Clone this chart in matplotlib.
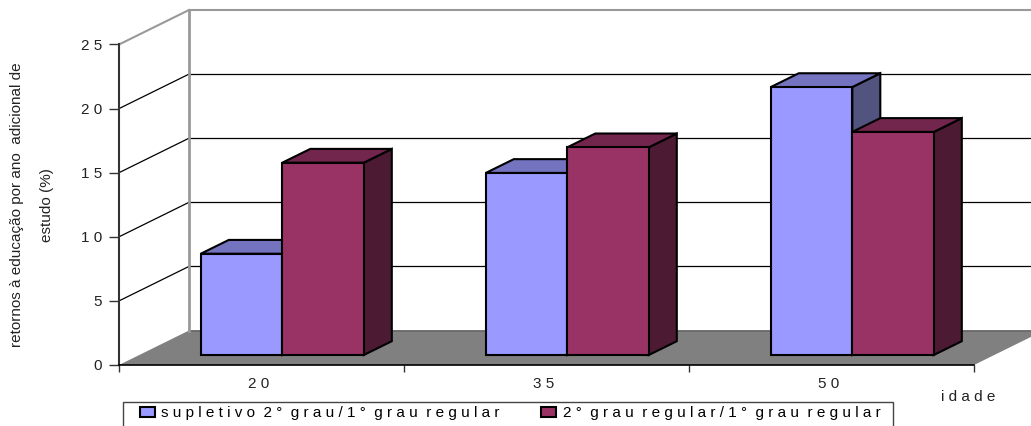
import matplotlib
matplotlib.use("Agg")
import matplotlib.pyplot as plt
from matplotlib.patches import Polygon, Rectangle

plt.rcParams["font.family"] = ["Liberation Sans", "DejaVu Sans"]

# dados
idades = ["2 0", "3 5", "5 0"]
supletivo = [7.9, 14.2, 20.9]
regular = [15.0, 16.2, 17.4]
serie_nomes = ["s u p l e t i v o  2 °  g r a u / 1 °  g r a u  r e g u l a r",
               "2 °  g r a u  r e g u l a r / 1 °  g r a u  r e g u l a r"]
y_ticks = [0, 5, 10, 15, 20, 25]
y_labels = ["0", "5", "1 0", "1 5", "2 0", "2 5"]

W, H = 1031, 426

# deslocamento da profundidade, em unidades dos eixos
DX = 70 / 285
DY = 34.5 / 12.82
BAR_W = 81.5 / 285
GAP = 61.5 / 285
D0, D1 = 0.29, 0.69


def proj(x, v, d=0.0):
    return (x + d * DX, v + d * DY)


def draw_bar(ax, x, v, cores, z):
    w = BAR_W
    edge = dict(edgecolor="black", linewidth=1.5, clip_on=False, joinstyle="miter", zorder=z)
    lado = [proj(x + w, 0, D0), proj(x + w, 0, D1), proj(x + w, v, D1), proj(x + w, v, D0)]
    topo = [proj(x, v, D0), proj(x + w, v, D0), proj(x + w, v, D1), proj(x, v, D1)]
    frente = [proj(x, 0, D0), proj(x + w, 0, D0), proj(x + w, v, D0), proj(x, v, D0)]
    ax.add_patch(Polygon(lado, facecolor=cores[2], **edge))
    ax.add_patch(Polygon(topo, facecolor=cores[1], **edge))
    return ax.add_patch(Polygon(frente, facecolor=cores[0], **edge))


fig = plt.figure(figsize=(W / 100, H / 100), dpi=100)
ax = fig.add_axes([119 / W, (H - 365) / H, 855 / W, 320.5 / H])
ax.set_xlim(0, 3)
ax.set_ylim(0, 25)
ax.patch.set_visible(False)

# chao
chao = [proj(0, 0), proj(3, 0), proj(3, 0, 1), proj(0, 0, 1)]
ax.add_patch(Polygon(chao, facecolor="#808080", edgecolor="none", clip_on=False, zorder=1))
ax.plot(*zip(proj(0, 0, 1), proj(3, 0, 1)), color="#666666", lw=1.2, clip_on=False, zorder=1.5)

# paredes e grades
for v in y_ticks:
    if v == 0:
        continue
    cor = "#999999" if v == 25 else "black"
    lw = 1.5 if v == 25 else 0.9
    ax.plot(*zip(proj(0, v), proj(0, v, 1)), color=cor, lw=lw, clip_on=False, zorder=2)
    ax.plot(*zip(proj(0, v, 1), proj(3, v, 1)), color=cor, lw=lw, clip_on=False, zorder=2)
ax.plot(*zip(proj(0, 0, 1), proj(0, 25, 1)), color="#999999", lw=2, clip_on=False, zorder=2)

# barras
azul = ("#9999FF", "#7373BF", "#53537F")
vinho = ("#993366", "#73264D", "#4D1A33")
for i in range(len(idades)):
    x0 = i + GAP
    h1 = draw_bar(ax, x0, supletivo[i], azul, 3 + i)
    h2 = draw_bar(ax, x0 + BAR_W, regular[i], vinho, 3.5 + i)
handles = [h1, h2]

# eixos
ax.spines["top"].set_visible(False)
ax.spines["right"].set_visible(False)
ax.spines["left"].set_color("#333333")
ax.spines["left"].set_linewidth(1.5)
ax.spines["bottom"].set_color("black")
ax.spines["bottom"].set_linewidth(1.2)
for s in ax.spines.values():
    s.set_zorder(2.5)

ax.set_yticks(y_ticks)
ax.set_yticklabels(y_labels, fontsize=11, color="#222222")
ax.tick_params(axis="y", length=7, width=1, color="#333333", pad=5)
ax.set_xticks([0, 1, 2, 3])
ax.set_xticklabels([])
ax.tick_params(axis="x", length=5, width=1, color="#333333")
ax.set_xticks([0.49, 1.49, 2.49], minor=True)
ax.set_xticklabels(idades, minor=True, fontsize=11, color="#222222")
ax.tick_params(axis="x", which="minor", length=0, pad=8.5)

ax.set_ylabel("retornos à educação por ano  adicional de\nestudo (%)", fontsize=11,
              linespacing=2.45, color="#222222")
ax.yaxis.set_label_coords((54 - 119) / 855, 0.5)
ax.set_xlabel("i d a d e", fontsize=11, color="#222222")
ax.xaxis.set_label_coords((968 - 119) / 855, (365 - 390) / 320.5)

# legenda
fig.add_artist(Rectangle((122.5 / W, -0.02), (893 - 122.5) / W, (H - 402) / H + 0.02,
                         transform=fig.transFigure, facecolor="white",
                         edgecolor="#444444", linewidth=1))
fig.legend(handles, serie_nomes, loc="center left", bbox_to_anchor=(140 / W, (H - 413.5) / H),
           bbox_transform=fig.transFigure, ncol=2, frameon=False, fontsize=11,
           handlelength=1.0, handleheight=0.6, handletextpad=0.4, columnspacing=2.7,
           borderpad=0, borderaxespad=0)

fig.savefig("out.png", dpi=100)
plt.close(fig)
